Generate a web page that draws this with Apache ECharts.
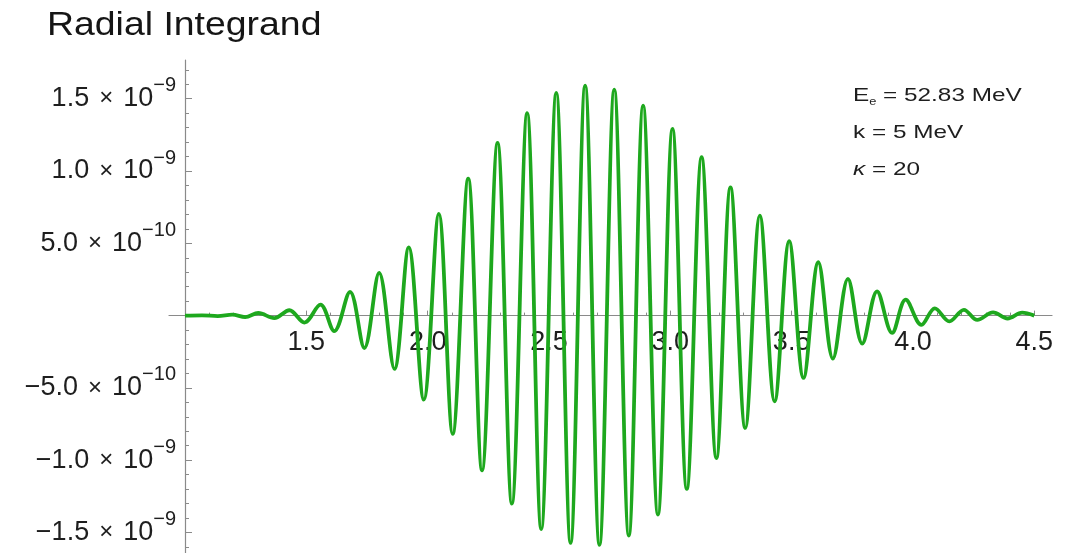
<!DOCTYPE html>
<html>
<head>
<meta charset="utf-8">
<script src="https://cdn.jsdelivr.net/npm/echarts@6/dist/echarts.min.js"></script>
<style>
html,body{margin:0;padding:0;background:#ffffff;}
#chart{width:1073px;height:553px;}
</style>
</head>
<body>
<div id="chart"></div>
<script>
// ---------- data ----------
const chartTitle = 'Radial Integrand';

// radius values (x) at the extrema of the curve
const rValues = [
  1.000, 1.070, 1.135, 1.195, 1.248, 1.302, 1.368, 1.430, 1.492, 1.558,
  1.615, 1.680, 1.739, 1.800, 1.863, 1.922, 1.984, 2.046, 2.103, 2.167,
  2.224, 2.288, 2.347, 2.410, 2.468, 2.530, 2.589, 2.649, 2.708, 2.769,
  2.829, 2.888, 2.949, 3.009, 3.068, 3.129, 3.190, 3.248, 3.309, 3.369,
  3.430, 3.490, 3.549, 3.610, 3.670, 3.732, 3.791, 3.852, 3.914, 3.970,
  4.035, 4.090, 4.150, 4.210, 4.265, 4.330, 4.390, 4.450, 4.500
];

// integrand values at those radii
const integrandValues = [
  0.000e-9,  0.002e-9, -0.003e-9,  0.007e-9, -0.010e-9,  0.018e-9, -0.018e-9,  0.037e-9, -0.048e-9,  0.076e-9,
 -0.108e-9,  0.164e-9, -0.224e-9,  0.295e-9, -0.369e-9,  0.472e-9, -0.581e-9,  0.703e-9, -0.818e-9,  0.947e-9,
 -1.070e-9,  1.194e-9, -1.300e-9,  1.400e-9, -1.476e-9,  1.540e-9, -1.572e-9,  1.590e-9, -1.586e-9,  1.563e-9,
 -1.521e-9,  1.452e-9, -1.376e-9,  1.291e-9, -1.199e-9,  1.095e-9, -0.985e-9,  0.887e-9, -0.777e-9,  0.692e-9,
 -0.593e-9,  0.514e-9, -0.431e-9,  0.369e-9, -0.297e-9,  0.254e-9, -0.194e-9,  0.168e-9, -0.120e-9,  0.110e-9,
 -0.064e-9,  0.050e-9, -0.040e-9,  0.040e-9, -0.030e-9,  0.022e-9, -0.020e-9,  0.020e-9,  0.000e-9
];

// ticks
const xMajorTicks = [1.5, 2.0, 2.5, 3.0, 3.5, 4.0, 4.5];
const xMajorLabels = ['1.5', '2.0', '2.5', '3.0', '3.5', '4.0', '4.5'];
const xMinorTicks = [1.1, 1.2, 1.3, 1.4, 1.6, 1.7, 1.8, 1.9, 2.1, 2.2, 2.3, 2.4,
  2.6, 2.7, 2.8, 2.9, 3.1, 3.2, 3.3, 3.4, 3.6, 3.7, 3.8, 3.9, 4.1, 4.2, 4.3, 4.4];

const yMajorTicks = [-1.5e-9, -1.0e-9, -5.0e-10, 5.0e-10, 1.0e-9, 1.5e-9];
const yTickMantissas = ['\u22121.5', '\u22121.0', '\u22125.0', '5.0', '1.0', '1.5'];
const yTickExponents = ['\u22129', '\u22129', '\u221210', '\u221210', '\u22129', '\u22129'];
const yMinorTicks = [-1.6e-9, -1.4e-9, -1.3e-9, -1.2e-9, -1.1e-9, -0.9e-9, -0.8e-9, -0.7e-9, -0.6e-9,
  -0.4e-9, -0.3e-9, -0.2e-9, -0.1e-9, 0.1e-9, 0.2e-9, 0.3e-9, 0.4e-9, 0.6e-9, 0.7e-9, 0.8e-9, 0.9e-9,
  1.1e-9, 1.2e-9, 1.3e-9, 1.4e-9, 1.6e-9, 1.7e-9];

// parameter annotation lines
const paramLines = [
  ['E', 'e', ' = 52.83 MeV'],
  ['k = 5 MeV'],
  ['\u03BA', ' = 20']
];

// ---------- chart ----------
const FONT = '"Liberation Sans", Arial, Helvetica, sans-serif';
const AXIS_COLOR = '#8a8a8a';
const TEXT_COLOR = '#1e1e1e';
const X_MIN = 0.934, X_MAX = 4.573;
const Y_MIN = -1.6418e-9, Y_MAX = 1.7676e-9;
const GRID_TOP = 60, GRID_BOTTOM = 0, CHART_H = 553;
// pixel distance from grid bottom up to the zero line (axis offset, layout only)
const ZERO_OFFSET = (CHART_H - GRID_TOP - GRID_BOTTOM) * (0 - Y_MIN) / (Y_MAX - Y_MIN);

const chart = echarts.init(document.getElementById('chart'), null, {renderer: 'canvas'});

function yLabel(v) {
  let best = 0;
  for (let i = 1; i < yMajorTicks.length; i++) {
    if (Math.abs(yMajorTicks[i] - v) < Math.abs(yMajorTicks[best] - v)) best = i;
  }
  return '{b|' + yTickMantissas[best] + '}{sp|\u00A0}{x|\u00D7}{sp|\u00A0}{b|10}{s|' + yTickExponents[best] + '}';
}
function xLabel(v) {
  let best = 0;
  for (let i = 1; i < xMajorTicks.length; i++) {
    if (Math.abs(xMajorTicks[i] - v) < Math.abs(xMajorTicks[best] - v)) best = i;
  }
  return xMajorLabels[best];
}

const option = {
  backgroundColor: '#ffffff',
  animation: false,
  grid: {left: 169, right: 21, top: GRID_TOP, bottom: GRID_BOTTOM, containLabel: false, outerBoundsMode: 'none'},
  xAxis: [
    {
      type: 'value', min: X_MIN, max: X_MAX, position: 'bottom', offset: -ZERO_OFFSET, z: 0,
      axisLine: {show: true, onZero: false, lineStyle: {color: AXIS_COLOR, width: 1.2}},
      axisTick: {show: true, inside: true, length: 5, customValues: xMajorTicks, lineStyle: {color: AXIS_COLOR}},
      axisLabel: {show: true, customValues: xMajorTicks, formatter: xLabel, margin: 13,
        fontFamily: FONT, fontSize: 27, color: TEXT_COLOR},
      splitLine: {show: false}
    },
    {
      type: 'value', min: X_MIN, max: X_MAX, position: 'bottom', offset: -ZERO_OFFSET, z: 0,
      axisLine: {show: false, onZero: false},
      axisTick: {show: true, inside: true, length: 3, customValues: xMinorTicks, lineStyle: {color: AXIS_COLOR}},
      axisLabel: {show: false},
      splitLine: {show: false}
    }
  ],
  yAxis: [
    {
      type: 'value', min: Y_MIN, max: Y_MAX, position: 'left', offset: -16,
      axisLine: {show: true, onZero: false, lineStyle: {color: AXIS_COLOR, width: 1.2}},
      axisTick: {show: true, inside: true, length: 7, customValues: yMajorTicks, lineStyle: {color: AXIS_COLOR}},
      axisLabel: {
        show: true, customValues: yMajorTicks, formatter: yLabel, margin: 9,
        rich: {
          b: {fontFamily: FONT, fontSize: 27, color: TEXT_COLOR, lineHeight: 46},
          sp: {fontFamily: FONT, fontSize: 36, color: TEXT_COLOR, lineHeight: 46},
          x: {fontFamily: FONT, fontSize: 24, color: TEXT_COLOR, lineHeight: 46},
          s: {fontFamily: FONT, fontSize: 20, color: TEXT_COLOR, lineHeight: 20, verticalAlign: 'top'}
        }
      },
      splitLine: {show: false}
    },
    {
      type: 'value', min: Y_MIN, max: Y_MAX, position: 'left', offset: -16,
      axisLine: {show: false, onZero: false},
      axisTick: {show: true, inside: true, length: 4, customValues: yMinorTicks, lineStyle: {color: AXIS_COLOR}},
      axisLabel: {show: false},
      splitLine: {show: false}
    }
  ],
  series: [{
    type: 'line',
    xAxisIndex: 0,
    yAxisIndex: 0,
    z: 5,
    data: rValues.map((r, i) => [r, integrandValues[i]]),
    smooth: 0.35,
    showSymbol: false,
    symbol: 'none',
    lineStyle: {color: '#1ea81e', width: 3.8},
    clip: true
  }],
  graphic: [
    {
      type: 'text', x: 47, y: 26, scaleX: 1.1,
      style: {
        text: chartTitle, verticalAlign: 'middle', align: 'left',
        font: '34px ' + FONT, fill: '#151515'
      }
    },
    {
      type: 'text', x: 853, y: 96, scaleX: 1.28,
      style: {
        text: '{a|' + paramLines[0][0] + '}{sub|' + paramLines[0][1] + '}{a|' + paramLines[0][2] + '}',
        verticalAlign: 'middle', align: 'left',
        rich: {
          a: {fontFamily: FONT, fontSize: 19, fill: TEXT_COLOR, lineHeight: 22},
          sub: {fontFamily: FONT, fontSize: 10, fill: TEXT_COLOR, lineHeight: 22, verticalAlign: 'bottom'}
        }
      }
    },
    {
      type: 'text', x: 853, y: 133, scaleX: 1.28,
      style: {
        text: paramLines[1][0],
        verticalAlign: 'middle', align: 'left',
        font: '19px ' + FONT, fill: TEXT_COLOR
      }
    },
    {
      type: 'text', x: 853, y: 170, scaleX: 1.28,
      style: {
        text: '{i|' + paramLines[2][0] + '}{a|' + paramLines[2][1] + '}',
        verticalAlign: 'middle', align: 'left',
        rich: {
          i: {fontFamily: FONT, fontSize: 19, fontStyle: 'italic', fill: TEXT_COLOR, lineHeight: 22},
          a: {fontFamily: FONT, fontSize: 19, fill: TEXT_COLOR, lineHeight: 22}
        }
      }
    }
  ]
};

chart.setOption(option);
</script>
</body>
</html>
